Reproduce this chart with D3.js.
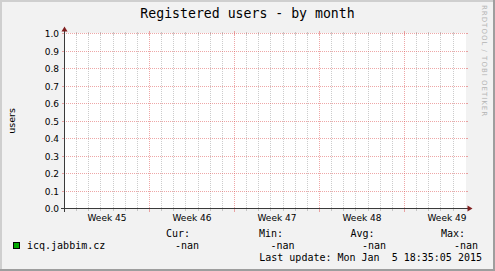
<!DOCTYPE html>
<html>
<head>
<meta charset="utf-8">
<script src="https://cdn.jsdelivr.net/npm/d3@7"></script>
<style>
  body { margin: 0; background: #f2f2f2; }
  svg { display: block; }
  text { white-space: pre; }
</style>
</head>
<body>
<script>
// Data
const weekStarts = ["2014-11-03", "2014-11-10", "2014-11-17", "2014-11-24", "2014-12-01"];
const weekLabels = ["Week 45", "Week 46", "Week 47", "Week 48", "Week 49"];
const yTicks = [0.0, 0.1, 0.2, 0.3, 0.4, 0.5, 0.6, 0.7, 0.8, 0.9, 1.0];
const yTickLabels = ["0.0", "0.1", "0.2", "0.3", "0.4", "0.5", "0.6", "0.7", "0.8", "0.9", "1.0"];
const seriesName = "icq.jabbim.cz";
const seriesValues = []; // no samples in the period (-nan)
const statLabels = ["Cur:", "Min:", "Avg:", "Max:"];
const statValues = ["-nan", "-nan", "-nan", "-nan"];
const lastUpdate = "Last update: Mon Jan  5 18:35:05 2015";

const W = 495, H = 271;
const mono = "'DejaVu Sans Mono', monospace";
const sans = "'DejaVu Sans', sans-serif";

// svg canvas
const svg = d3.select("body")
    .append("svg")
    .attr("width", W)
    .attr("height", H)

svg.append("rect")
    .attr("width", W)
    .attr("height", H)
    .attr("fill", "#f2f2f2")

// 3D frame like rrdtool
svg.append("rect").attr("x", 0).attr("y", 0).attr("width", W).attr("height", 2).attr("fill", "#cfcfcf")
svg.append("rect").attr("x", 0).attr("y", 0).attr("width", 2).attr("height", H).attr("fill", "#cfcfcf")
svg.append("rect").attr("x", 0).attr("y", H - 2).attr("width", W).attr("height", 2).attr("fill", "#9e9e9e")
svg.append("rect").attr("x", W - 2).attr("y", 0).attr("width", 2).attr("height", H).attr("fill", "#9e9e9e")

// scales
const t0 = new Date("2014-11-03T00:00:00Z");
const t1 = new Date("2014-12-06T00:34:00Z");
const x = d3.scaleUtc().domain([t0, t1]).range([64.5, 465.5]);
const y = d3.scaleLinear().domain([0, 1]).range([208.5, 33.5]);
const px = v => Math.floor(v) + 0.5;

const x0 = x.range()[0], x1 = x.range()[1];
const yTop = y.range()[1], yBot = y.range()[0];

// white canvas
svg.append("rect")
    .attr("x", 64)
    .attr("y", 33)
    .attr("width", 402)
    .attr("height", 176)
    .attr("fill", "#ffffff")

const grid = svg.append("g").attr("shape-rendering", "crispEdges")

const minorCol = "rgba(143,143,143,0.45)";
const majorCol = "rgba(222,79,79,0.5)";

// minor grid: every day except week starts
const days = d3.utcDay.range(t0, t1).filter(d => d.getUTCDay() !== 1 && x(d) < x1 - 1);
days.forEach(d => {
    const X = px(x(d));
    grid.append("line").attr("x1", X).attr("x2", X).attr("y1", yTop - 2).attr("y2", yTop + 1).attr("stroke", minorCol)
    grid.append("line").attr("x1", X).attr("x2", X).attr("y1", yBot - 1).attr("y2", yBot + 2).attr("stroke", minorCol)
    grid.append("line").attr("x1", X).attr("x2", X).attr("y1", yTop + 1).attr("y2", yBot - 1)
        .attr("stroke", minorCol).attr("stroke-dasharray", "1,1")
})

// major grid: weeks
const weeks = weekStarts.map(s => new Date(s + "T00:00:00Z"));
weeks.filter(d => x(d) > x0 + 1).forEach(d => {
    const X = px(x(d));
    grid.append("line").attr("x1", X).attr("x2", X).attr("y1", yTop - 3).attr("y2", yTop + 1).attr("stroke", majorCol)
    grid.append("line").attr("x1", X).attr("x2", X).attr("y1", yBot - 1).attr("y2", yBot + 3).attr("stroke", majorCol)
    grid.append("line").attr("x1", X).attr("x2", X).attr("y1", yTop + 1).attr("y2", yBot - 1)
        .attr("stroke", majorCol).attr("stroke-dasharray", "1,1")
})

// horizontal grid
yTicks.filter(v => v > 0).forEach(v => {
    const Y = px(y(v));
    grid.append("line").attr("x1", x0 - 3).attr("x2", x0).attr("y1", Y).attr("y2", Y).attr("stroke", majorCol)
    grid.append("line").attr("x1", x1).attr("x2", x1 + 2).attr("y1", Y).attr("y2", Y).attr("stroke", majorCol)
    grid.append("line").attr("x1", x0 + 1).attr("x2", x1).attr("y1", Y).attr("y2", Y)
        .attr("stroke", majorCol).attr("stroke-dasharray", "1,1")
})

// series line (empty, all -nan)
const line = d3.line()
    .defined(d => !isNaN(d.v))
    .x(d => x(d.t))
    .y(d => y(d.v))
svg.append("path")
    .datum(seriesValues)
    .attr("d", line)
    .attr("fill", "none")
    .attr("stroke", "#00a800")

// axes
svg.append("line")
    .attr("x1", x0 - 4).attr("x2", x1 + 4).attr("y1", yBot).attr("y2", yBot)
    .attr("stroke", "#3a3a3a").attr("shape-rendering", "crispEdges")
svg.append("line")
    .attr("x1", x0).attr("x2", x0).attr("y1", yBot + 3).attr("y2", yTop - 4)
    .attr("stroke", "#3a3a3a").attr("shape-rendering", "crispEdges")

// arrows
svg.append("path")
    .attr("d", `M${x1 + 2},${yBot - 3}L${x1 + 2},${yBot + 3}L${x1 + 7},${yBot}Z`)
    .attr("fill", "#801f1f")
svg.append("path")
    .attr("d", `M${x0 - 3},${yTop - 2}L${x0 + 3},${yTop - 2}L${x0},${yTop - 7}Z`)
    .attr("fill", "#801f1f")

// y labels
svg.selectAll(".ylab")
    .data(yTicks)
    .enter()
    .append("text")
    .attr("x", 59)
    .attr("y", d => px(y(d)) + 3.3)
    .attr("text-anchor", "end")
    .attr("font-family", sans)
    .attr("font-size", 9)
    .text((d, i) => yTickLabels[i])

// x labels, centered in the week
svg.selectAll(".xlab")
    .data(weeks)
    .enter()
    .append("text")
    .attr("x", d => x(d3.utcHour.offset(d, 84)))
    .attr("y", 221)
    .attr("text-anchor", "middle")
    .attr("font-family", sans)
    .attr("font-size", 9)
    .text((d, i) => weekLabels[i])

// title
svg.append("text")
    .attr("x", 247.5)
    .attr("y", 18)
    .attr("text-anchor", "middle")
    .attr("font-family", mono)
    .attr("font-size", 13.2)
    .text("Registered users - by month")

// y axis title
svg.append("text")
    .attr("transform", `translate(15,${(yTop + yBot) / 2}) rotate(-90)`)
    .attr("text-anchor", "middle")
    .attr("font-family", sans)
    .attr("font-size", 9.5)
    .text("users")

// watermark
svg.append("text")
    .attr("transform", "translate(482,5) rotate(90)")
    .attr("font-family", sans)
    .attr("font-size", 7)
    .attr("letter-spacing", 1)
    .attr("fill", "#b4b4b4")
    .text("RRDTOOL / TOBI OETIKER")

// legend
const statX = [166, 259, 350.5, 441];
const valX = [175, 270.5, 362, 454];

svg.selectAll(".stat")
    .data(statLabels)
    .enter()
    .append("text")
    .attr("x", (d, i) => statX[i])
    .attr("y", 237)
    .attr("font-family", mono)
    .attr("font-size", 10)
    .text(d => d)

svg.append("rect")
    .attr("x", 13.5)
    .attr("y", 242.5)
    .attr("width", 6)
    .attr("height", 6)
    .attr("fill", "#00a800")
    .attr("stroke", "#000")

svg.append("text")
    .attr("x", 27)
    .attr("y", 248.5)
    .attr("font-family", mono)
    .attr("font-size", 10)
    .text(seriesName)

svg.selectAll(".val")
    .data(statValues)
    .enter()
    .append("text")
    .attr("x", (d, i) => valX[i])
    .attr("y", 248.5)
    .attr("font-family", mono)
    .attr("font-size", 10)
    .text(d => d)

svg.append("text")
    .attr("x", 482)
    .attr("y", 261)
    .attr("text-anchor", "end")
    .attr("font-family", mono)
    .attr("font-size", 10)
    .text(lastUpdate)
</script>
</body>
</html>
